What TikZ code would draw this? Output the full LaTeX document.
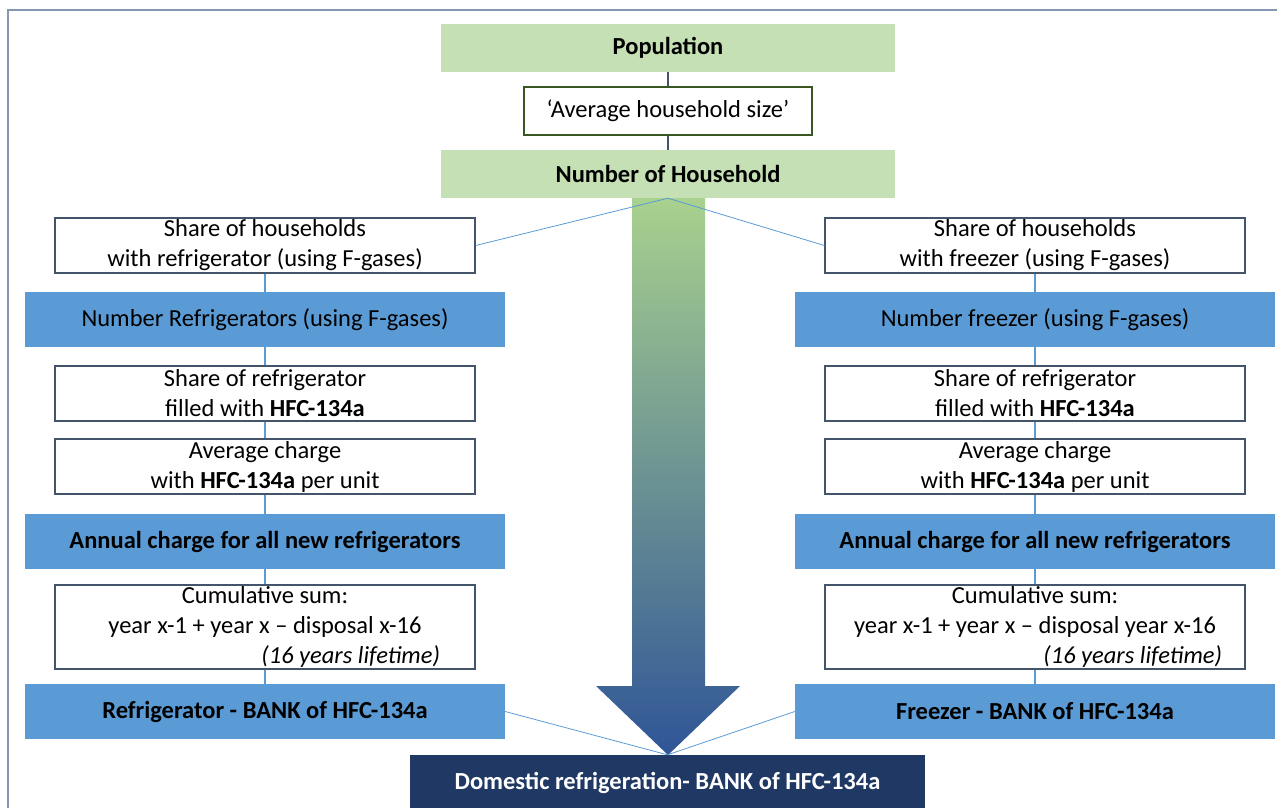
\documentclass[tikz,border=0pt]{standalone}
\usepackage{fontspec}
\setmainfont{Carlito}

\definecolor{popgreen}{HTML}{C5E0B4}
\definecolor{sizegreen}{HTML}{385723}
\definecolor{stepblue}{HTML}{5B9BD5}
\definecolor{boxgray}{HTML}{44546A}
\definecolor{bankblue}{HTML}{203864}
\definecolor{arrowtop}{HTML}{A9D18E}
\definecolor{arrowbot}{HTML}{2F5597}
\definecolor{framegray}{HTML}{8497B0}

\tikzset{
	hhbox/.style={fill=popgreen, minimum width=454, minimum height=48, inner sep=0, font=\bfseries},
	sizebox/.style={draw=sizegreen, line width=1.6, fill=white, minimum width=288, minimum height=48, inner sep=0},
	sharebox/.style={draw=boxgray, line width=1.2, fill=white, minimum width=420, minimum height=55, inner sep=0, align=center},
	numbox/.style={fill=stepblue, minimum width=480, minimum height=55, inner sep=0},
	sumbox/.style={numbox, font=\bfseries},
	bankbox/.style={fill=bankblue, text=white, minimum width=515, minimum height=55, inner sep=0, font=\bfseries},
	darklink/.style={draw=boxgray, line width=1.2},
	bluelink/.style={draw=stepblue, line width=1.4},
	fanlink/.style={draw=stepblue, line width=0.8}
}

\begin{document}
\fontsize{24.5}{30}\selectfont
\begin{tikzpicture}[x=1pt, y=-1pt]
	\useasboundingbox (0,0) rectangle (1277,807);
	\clip (0,0) rectangle (1277,807);

	% frame
	\draw [framegray, line width=1.2] (8,820) -- (8,10) -- (1290,10);

	% big arrow
	\shade [top color=arrowtop, bottom color=arrowbot]
		(632,198) -- (705,198) -- (705,686) -- (740,686) -- (668,755)
		-- (596,686) -- (632,686) -- cycle;

	% top
	\node [hhbox] (pop) at (668,47.5){Population};
	\node [sizebox] (hhsize) at (668,111){`Average household size'};
	\node [hhbox] (hh) at (668,174){Number of Household};
	\draw [darklink] (pop) -- (hhsize);
	\draw [darklink] (hhsize) -- (hh);

	% refrigerator
	\node [sharebox] (refshare) at (265,245.5){Share of households\\with refrigerator (using F-gases)};
	\node [numbox] (refnum) at (265,319.5){Number Refrigerators (using F-gases)};
	\node [sharebox] (refhfc) at (265,393.5){Share of refrigerator\\filled with \textbf{HFC-134a}};
	\node [sharebox] (refavg) at (265,466.5){Average charge\\with \textbf{HFC-134a} per unit};
	\node [sumbox] (refannual) at (265,541.5){Annual charge for all new refrigerators};
	\node [sharebox, minimum height=84] (refcum) at (265,627){Cumulative sum:\\year x-1 + year x -- disposal x-16\\\makebox[420pt][r]{\itshape (16 years lifetime)\kern35pt}};
	\node [sumbox] (refbank) at (265,711.5){Refrigerator - BANK of HFC-134a};

	% freezer
	\node [sharebox] (frzshare) at (1035,245.5){Share of households\\with freezer (using F-gases)};
	\node [numbox] (frznum) at (1035,319.5){Number freezer (using F-gases)};
	\node [sharebox] (frzhfc) at (1035,393.5){Share of refrigerator\\filled with \textbf{HFC-134a}};
	\node [sharebox] (frzavg) at (1035,466.5){Average charge\\with \textbf{HFC-134a} per unit};
	\node [sumbox] (frzannual) at (1035,541.5){Annual charge for all new refrigerators};
	\node [sharebox, minimum height=84] (frzcum) at (1035,627){Cumulative sum:\\year x-1 + year x -- disposal year x-16\\\makebox[420pt][r]{\itshape (16 years lifetime)\kern23pt}};
	\node [sumbox] (frzbank) at (1035,711.5){Freezer - BANK of HFC-134a};

	% total
	\node [bankbox] (dom) at (667.5,782.5){Domestic refrigeration- BANK of HFC-134a};

	% |
	\draw [bluelink] (refshare) -- (refnum);
	\draw [bluelink] (refnum) -- (refhfc);
	\draw [bluelink] (refhfc) -- (refavg);
	\draw [bluelink] (refavg) -- (refannual);
	\draw [bluelink] (refannual) -- (refcum);
	\draw [bluelink] (refcum) -- (refbank);

	\draw [bluelink] (frzshare) -- (frznum);
	\draw [bluelink] (frznum) -- (frzhfc);
	\draw [bluelink] (frzhfc) -- (frzavg);
	\draw [bluelink] (frzavg) -- (frzannual);
	\draw [bluelink] (frzannual) -- (frzcum);
	\draw [bluelink] (frzcum) -- (frzbank);

	% fan in / fan out
	\draw [fanlink] (hh.south) -- (refshare.east);
	\draw [fanlink] (hh.south) -- (frzshare.west);
	\draw [fanlink] (refbank.east) -- (dom.north);
	\draw [fanlink] (frzbank.west) -- (dom.north);
\end{tikzpicture}
\end{document}
